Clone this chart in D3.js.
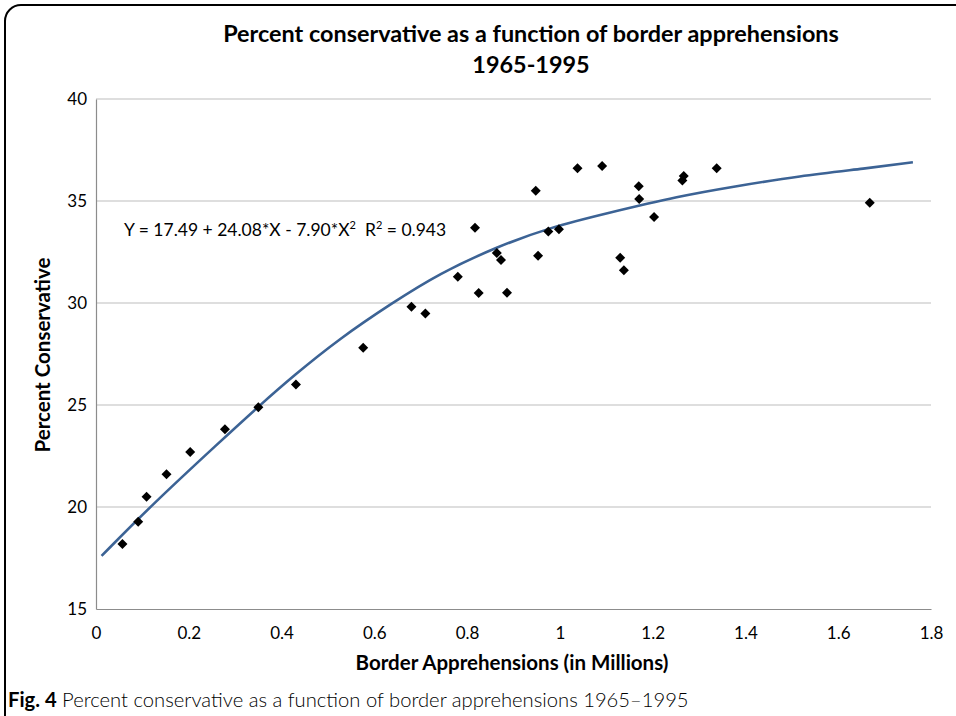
<!DOCTYPE html>
<html>
<head>
<meta charset="utf-8">
<script src="https://cdn.jsdelivr.net/npm/d3@7"></script>
<style>
  html, body { margin: 0; padding: 0; background: #fff; }
  svg { display: block; }
  text { font-family: Lato, "Open Sans", sans-serif; fill: #000; }
</style>
</head>
<body>
<svg id="chart" width="956" height="716"></svg>
<script>
// Border apprehensions (millions) and percent conservative, 1965-1995
const apprehensions = [
  0.057, 0.091, 0.109, 0.152, 0.203, 0.278, 0.350, 0.431, 0.576,
  0.680, 0.710, 0.780, 0.817, 0.825, 0.864, 0.873, 0.886, 0.948,
  0.953, 0.975, 0.998, 1.038, 1.091, 1.130, 1.138, 1.170, 1.171,
  1.203, 1.264, 1.267, 1.338, 1.668
];
const conservative = [
  18.19, 19.28, 20.50, 21.60, 22.70, 23.81, 24.89, 26.01, 27.81,
  29.82, 29.49, 31.29, 33.69, 30.49, 32.45, 32.11, 30.50, 35.50,
  32.32, 33.50, 33.61, 36.60, 36.72, 32.22, 31.60, 35.72, 35.10,
  34.22, 36.00, 36.23, 36.60, 34.92
];

// Fitted trend line
const fitX = [0.012, 0.116, 0.271, 0.350, 0.425, 0.526, 0.637, 0.741, 0.864, 0.978,
              1.101, 1.259, 1.373, 1.517, 1.661, 1.761];
const fitY = [17.60, 20.01, 23.28, 24.92, 26.42, 28.27, 29.98, 31.46, 32.75, 33.70,
              34.40, 35.25, 35.70, 36.23, 36.60, 36.90];

const xTicks = [0, 0.2, 0.4, 0.6, 0.8, 1, 1.2, 1.4, 1.6, 1.8];
const yTicks = [15, 20, 25, 30, 35, 40];

const svg = d3.select("#chart");
const plotLeft = 96, plotRight = 931, plotTop = 99, plotBottom = 609;

const x = d3.scaleLinear().domain([0, 1.8]).range([plotLeft, plotRight]);
const y = d3.scaleLinear().domain([15, 40]).range([plotBottom, plotTop]);

// Outer frame
svg.append("rect")
  .attr("x", 5).attr("y", 5).attr("width", 1100).attr("height", 900)
  .attr("rx", 16).attr("ry", 16)
  .attr("fill", "none").attr("stroke", "#000").attr("stroke-width", 2);

// Title
svg.append("text").attr("x", 531).attr("y", 42).attr("text-anchor", "middle")
  .attr("font-size", 23.4).attr("font-weight", "bold")
  .text("Percent conservative as a function of border apprehensions");
svg.append("text").attr("x", 531).attr("y", 73).attr("text-anchor", "middle")
  .attr("font-size", 23.4).attr("font-weight", "bold")
  .text("1965-1995");

// Horizontal gridlines
svg.append("g").selectAll("line").data(yTicks.filter(d => d > 15)).join("line")
  .attr("x1", plotLeft).attr("x2", plotRight)
  .attr("y1", d => y(d)).attr("y2", d => y(d))
  .attr("stroke", "#bdbdbd").attr("stroke-width", 1.2);

// Y axis
const yAxis = svg.append("g").attr("transform", `translate(${plotLeft},0)`)
  .call(d3.axisLeft(y).tickValues(yTicks).tickSize(0).tickPadding(9).tickFormat(d3.format("d")));
yAxis.select(".domain").attr("stroke", "#8c8c8c").attr("stroke-width", 1.2);
yAxis.selectAll("text").attr("font-size", 17).attr("font-family", "Lato, sans-serif").attr("fill", "#000");

// X axis
const xAxis = svg.append("g").attr("transform", `translate(0,${plotBottom})`)
  .call(d3.axisBottom(x).tickValues(xTicks).tickSize(0).tickPadding(18).tickFormat(d => String(d)));
xAxis.select(".domain").attr("stroke", "#8c8c8c").attr("stroke-width", 1.2);
xAxis.selectAll("text").attr("font-size", 17).attr("font-family", "Lato, sans-serif").attr("fill", "#000");

// Axis titles
svg.append("text").attr("x", 512).attr("y", 670).attr("text-anchor", "middle")
  .attr("font-size", 20.5).attr("font-weight", "bold")
  .text("Border Apprehensions (in Millions)");
svg.append("text").attr("transform", "translate(50,355) rotate(-90)").attr("text-anchor", "middle")
  .attr("font-size", 20.5).attr("font-weight", "bold")
  .text("Percent Conservative");

// Trend line
const line = d3.line().x((d, i) => x(fitX[i])).y(d => y(d)).curve(d3.curveBasis);
svg.append("path").datum(fitY)
  .attr("d", line)
  .attr("fill", "none").attr("stroke", "#3c6395").attr("stroke-width", 2.6);

// Observations as diamonds
svg.append("g").selectAll("path").data(conservative).join("path")
  .attr("transform", (d, i) => `translate(${x(apprehensions[i])},${y(d)}) rotate(45)`)
  .attr("d", d3.symbol(d3.symbolSquare, 50)())
  .attr("fill", "#000");

// Fitted equation
const eq = svg.append("text").attr("x", 124).attr("y", 236).attr("font-size", 17.5);
eq.append("tspan").text("Y = 17.49 + 24.08*X - 7.90*X");
eq.append("tspan").attr("font-size", 11).attr("dy", -7).text("2");
eq.append("tspan").attr("dy", 7).attr("dx", 9).text("R");
eq.append("tspan").attr("font-size", 11).attr("dy", -7).text("2");
eq.append("tspan").attr("dy", 7).text(" = 0.943");

// Figure caption
const cap = svg.append("text").attr("x", 8).attr("y", 707).attr("font-size", 20.2).attr("fill", "#222");
cap.append("tspan").attr("font-weight", "bold").text("Fig. 4");
cap.append("tspan").attr("font-weight", 300).text(" Percent conservative as a function of border apprehensions 1965–1995");
</script>
</body>
</html>
